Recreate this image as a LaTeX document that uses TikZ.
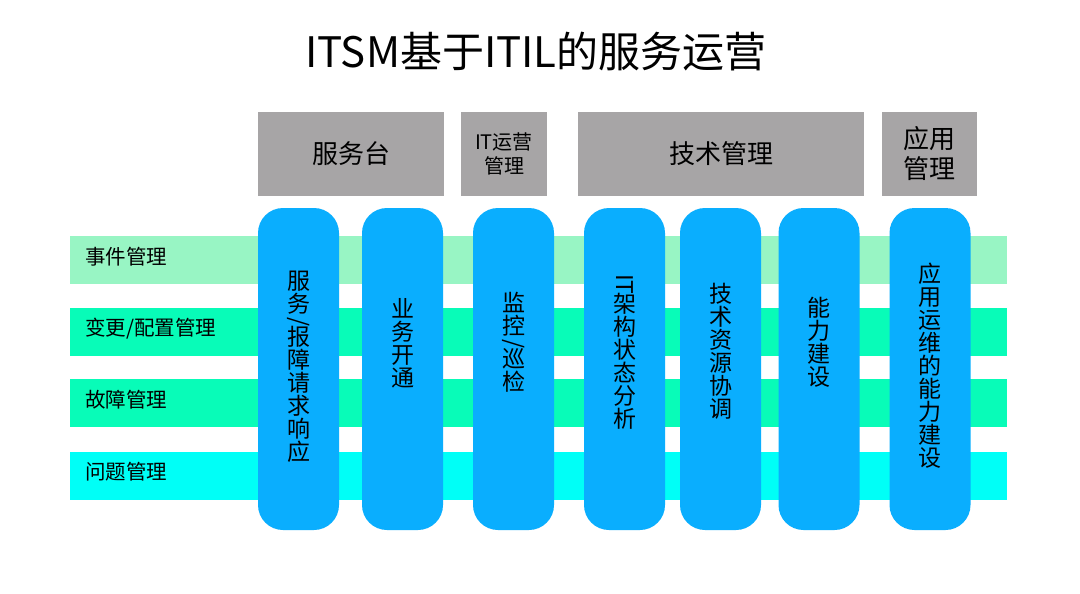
\documentclass[tikz,border=0pt]{standalone}
\usepackage{fontspec}
\setmainfont{Noto Sans CJK SC}
\usepackage{graphicx,xcolor}
\definecolor{itgray}{RGB}{167,165,166}
\definecolor{itblue}{RGB}{10,174,254}
\definecolor{itmint}{RGB}{152,245,196}
\definecolor{itgreen}{RGB}{8,252,184}
\definecolor{itcyan}{RGB}{0,255,247}
\usetikzlibrary{positioning}
\newcommand{\vslash}{\rotatebox[origin=c]{-90}{/}}
\newcommand{\vIT}{\rotatebox[origin=c]{-90}{IT}}

\begin{document}
\begin{tikzpicture}[
  x=1pt, y=-1pt,
  band/.style={
    rectangle, inner sep=0pt, anchor=west,
    minimum width=937pt, minimum height=48pt
  },
  bandlabel/.style={anchor=west, inner sep=0pt, font=\fontsize{20.5}{24}\selectfont},
  hdrbox/.style={
    rectangle, inner sep=0pt,
    minimum height=84pt,
    fill=itgray,
    align=center,
    font=\fontsize{26}{30}\selectfont
  },
  pillar/.style={
    rectangle, rounded corners=25pt, inner sep=0pt,
    minimum width=81pt, minimum height=322pt,
    fill=itblue
  },
  vtext/.style={inner sep=0pt, align=center, font=\fontsize{23}{23}\selectfont}
]
\useasboundingbox[fill=white] (0,0) rectangle (1080,594);

\node[font=\fontsize{42}{50}\selectfont] (title) at (536,52) {ITSM基于ITIL的服务运营};

\node[hdrbox, minimum width=186pt] (h1) at (351,154)   {服务台};
\node[hdrbox, minimum width=86pt, font=\fontsize{20}{24}\selectfont] (h2) at (504,154) {IT运营\\管理};
\node[hdrbox, minimum width=286pt] (h3) at (721,154)   {技术管理};
\node[hdrbox, minimum width=95pt]  (h4) at (929.5,154) {应用\\管理};

\node[band, fill=itmint]  (b1) at (70,260)   {};
\node[band, fill=itgreen] (b2) at (70,331.5) {};
\node[band, fill=itgreen] (b3) at (70,403)   {};
\node[band, fill=itcyan]  (b4) at (70,475.5) {};

\node[bandlabel] (l1) at (85,257)   {事件管理};
\node[bandlabel] (l2) at (85,329)   {变更/配置管理};
\node[bandlabel] (l3) at (85,400)   {故障管理};
\node[bandlabel] (l4) at (85,472)   {问题管理};

\node[pillar] (p1) at (298.5,369) {};
\node[pillar] (p2) at (402.5,369) {};
\node[pillar] (p3) at (513.5,369) {};
\node[pillar] (p4) at (624.5,369) {};
\node[pillar] (p5) at (720.5,369) {};
\node[pillar] (p6) at (819,369)   {};
\node[pillar] (p7) at (930,369)   {};

\node[vtext] (t1) at (p1 |- 0,367)   {服\\务\\[-7pt]\vslash\\[-6pt]报\\障\\请\\求\\响\\应};
\node[vtext] (t2) at (p2 |- 0,343.5) {业\\务\\开\\通};
\node[vtext] (t3) at (p3 |- 0,342.5) {监\\控\\[-7pt]\vslash\\[-6pt]巡\\检};
\node[vtext] (t4) at (p4 |- 0,352)   {\vIT\\[-3pt]架\\构\\状\\态\\分\\析};
\node[vtext] (t5) at (p5 |- 0,351)   {技\\术\\资\\源\\协\\调};
\node[vtext] (t6) at (p6 |- 0,342)   {能\\力\\建\\设};
\node[vtext] (t7) at (p7 |- 0,366)   {应\\用\\运\\维\\的\\能\\力\\建\\设};
\end{tikzpicture}
\end{document}
